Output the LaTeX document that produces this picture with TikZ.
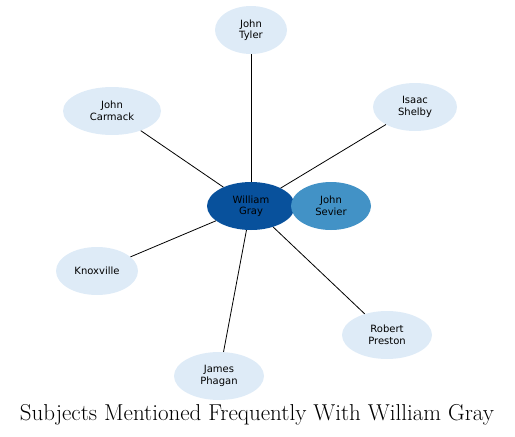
\documentclass[tikz,border=0pt]{standalone}
\usepackage{fontspec}
\usepackage{xcolor}
\usetikzlibrary{shapes.geometric}
\newfontfamily\bubblefont{DejaVu Sans}
\definecolor{hubblue}{HTML}{08519C}
\definecolor{midblue}{HTML}{4292C6}
\definecolor{paleblue}{HTML}{DEEBF7}

\begin{document}
\begin{tikzpicture}[x=1pt, y=-1pt,
  bubble/.style={ellipse, draw=none, fill=paleblue, inner sep=0pt,
    minimum height=48pt, align=center, text=black,
    font=\bubblefont\fontsize{10}{11.5}\selectfont},
  link/.style={black, line width=0.8pt}]
  % Fix the page to the reference size
  \useasboundingbox (0,0) rectangle (515,437);

  % Centre node and its close neighbour
  \node[bubble, fill=hubblue, minimum width=88pt] (gray) at (251,206) {William\\Gray};
  \node[bubble, fill=midblue, minimum width=80pt] (sevier) at (331,206) {John\\Sevier};

  % Outer nodes
  \node[bubble, minimum width=72pt] (tyler) at (251,30) {John\\Tyler};
  \node[bubble, minimum width=98pt] (carmack) at (112,111) {John\\Carmack};
  \node[bubble, minimum width=84pt] (shelby) at (415,107) {Isaac\\Shelby};
  \node[bubble, minimum width=82pt] (knox) at (97,271) {Knoxville};
  \node[bubble, minimum width=90pt] (preston) at (387,335) {Robert\\Preston};
  \node[bubble, minimum width=90pt] (phagan) at (219,376) {James\\Phagan};

  % Links from the centre
  \draw[link] (gray) -- (tyler);
  \draw[link] (gray) -- (carmack);
  \draw[link] (gray) -- (shelby);
  \draw[link] (gray) -- (knox);
  \draw[link] (gray) -- (preston);
  \draw[link] (gray) -- (phagan);

  % Title
  \node[font=\fontsize{23}{27}\selectfont] (title) at (257,415) {Subjects Mentioned Frequently With William Gray};
\end{tikzpicture}
\end{document}
